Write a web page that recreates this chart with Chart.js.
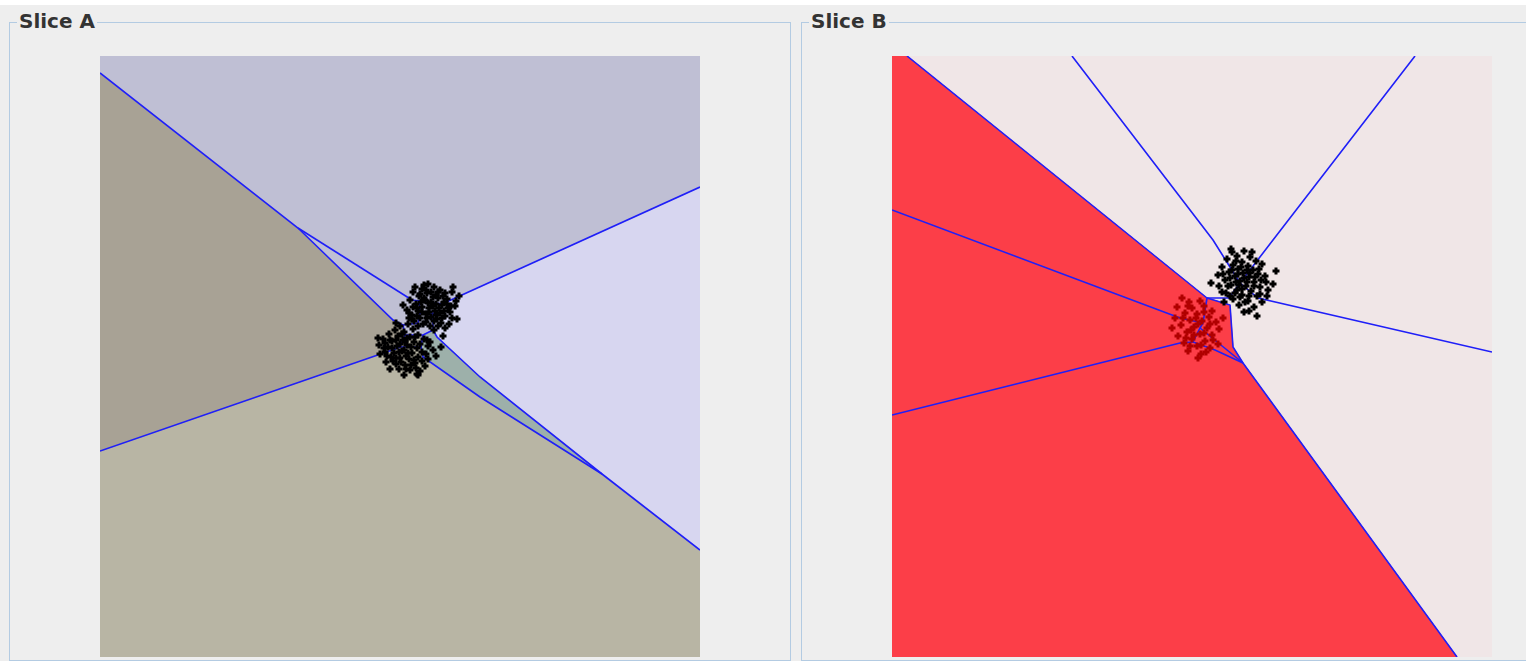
<!DOCTYPE html>
<html>
<head>
<meta charset="utf-8">
<title>Slices</title>
<script src="https://cdn.jsdelivr.net/npm/chart.js@4.4.1/dist/chart.umd.min.js"></script>
<style>
  html, body { margin: 0; padding: 0; background: #ffffff; width: 1526px; height: 661px; overflow: hidden;
    font-family: "DejaVu Sans", "Liberation Sans", sans-serif; }
  #bg { position: absolute; left: 0; top: 5px; width: 1526px; height: 656px; background: #eeeeee; }
  .frame { position: absolute; top: 22px; height: 637px; border: 1px solid #b3cbe2; }
  .title { position: absolute; top: 9px; font-weight: bold; font-size: 20px; color: #333333;
    background: #eeeeee; padding: 0 2px; line-height: 24px; }
  canvas { position: absolute; top: 56px; }
</style>
</head>
<body>
<div id="bg"></div>
<div class="frame" style="left:9px; width:780px"></div>
<div class="frame" style="left:801px; width:760px"></div>
<div class="title" style="left:17px">Slice A</div>
<div class="title" style="left:809px">Slice B</div>
<canvas id="sliceA" width="600" height="601" style="left:100px"></canvas>
<canvas id="sliceB" width="600" height="601" style="left:892px"></canvas>

<script>
// ---- Slice A: decision regions (x 0..600, y 0..601 measured downward) ----
const aFull      = [[0,0],[600,0],[600,601],[0,601],[0,0]];
const aTop       = [[0,0],[600,0],[600,131],[342,248],[333,257],[320,257],[303,269],[293,264],[198,172],[0,17],[0,0]];
const aLeft      = [[0,17],[198,172],[293,264],[303,269],[305,279],[300,291],[298,292],[0,395],[0,17]];
const aRight     = [[600,131],[600,494],[502,418],[380,321],[337,281],[333,274],[333,257],[342,248],[600,131]];
const aWedge     = [[333,274],[337,281],[380,321],[502,418],[380,341],[323,301],[321,291],[323,279],[333,274]];
const aCore      = [[303,269],[320,257],[333,257],[333,274],[323,279],[305,279],[303,269]];

// ---- Slice A: region boundaries ----
const aEdgeMain   = [[0,17],[198,172],[293,264],[303,269]];
const aEdgeBranch = [[198,172],[312,244]];
const aEdgeRight  = [[342,248],[600,131]];
const aEdgeLower  = [[0,395],[298,292]];
const aEdgeWedgeU = [[333,274],[337,281],[380,321],[502,418],[600,494]];
const aEdgeWedgeL = [[321,291],[323,301],[380,341],[502,418]];
const aCells = [
  [[312,244],[342,248]],
  [[319,244],[320,257]],
  [[318,257],[333,257],[333,274]],
  [[320,257],[318,267],[303,269]],
  [[303,269],[305,279]],
  [[305,279],[323,279],[321,291],[300,291],[305,279]],
  [[323,279],[333,274]],
  [[300,291],[298,292]]
];

// ---- Slice A: samples ----
const aSamples = [
  [328,228],[334,231],[322,233],[340,234],[313,236],[327,237],[345,237],[352,236],[319,240],[333,241],
  [338,242],[347,243],[310,244],[325,244],[331,246],[356,245],[316,248],[336,248],[342,249],[322,251],
  [329,252],[348,252],[307,254],[318,255],[335,255],[340,257],[326,258],[312,259],[345,260],[331,261],
  [320,262],[337,263],[352,262],[314,265],[326,266],[341,267],[330,270],[318,270],[345,272],[359,240],
  [303,249],[324,229],[344,246],[334,265],[350,256],[309,262],[321,246],[338,236],[315,231],[353,231],
  [326,234],[331,236],[336,239],[343,240],[320,238],[324,242],[328,247],[333,250],[339,252],[344,255],
  [317,252],[322,256],[327,262],[336,259],[342,262],[313,251],[347,248],[351,250],[329,256],[323,268],
  [338,270],[334,274],[317,260],[309,257],[355,250],
  [300,270],[308,268],[295,274],[304,276],[313,273],[289,278],[298,280],[310,281],[318,279],[283,283],
  [292,285],[303,284],[314,286],[324,283],[279,289],[288,291],[297,290],[307,289],[317,292],[328,290],
  [285,296],[294,297],[302,295],[312,297],[322,296],[333,294],[291,301],[300,302],[309,303],[318,301],
  [328,303],[286,306],[296,308],[305,309],[315,307],[325,310],[299,313],[310,314],[320,315],[304,319],
  [290,313],[336,300],[341,291],[280,298],[317,318],[327,284],[306,300],[296,267],[285,287],[312,263],
  [302,278],[307,282],[296,284],[292,292],[300,288],[311,291],[304,294],[296,302],[308,297],[314,304],
  [322,305],[301,306],[293,305],[311,309],[287,300],[284,292],[320,288],[326,298],[330,286],[315,281],
  [299,296],[305,285],[290,284],[316,312],[306,313],
  [343,280],[349,268],[278,282],[318,319],[357,263]
];

// ---- Slice B: decision regions ----
const bFull = [[0,0],[600,0],[600,601],[0,601],[0,0]];
const bRed  = [[0,0],[15,0],[315,242],[338,249],[341,291],[351,307],[565,601],[0,601],[0,0]];

// ---- Slice B: region boundaries ----
const bEdges = [
  [[15,0],[315,242]],
  [[315,242],[338,249],[341,291],[351,307],[565,601]],
  [[0,154],[288,262],[311,267]],
  [[311,267],[315,242]],
  [[0,359],[288,287],[301,286]],
  [[311,267],[308,272],[301,286]],
  [[308,272],[351,307]],
  [[301,286],[323,294],[351,307]],
  [[180,0],[321,184],[348,227]],
  [[523,0],[381,184],[348,227]],
  [[348,227],[366,242],[600,296]],
  [[348,227],[337,242],[315,242]]
];

// ---- Slice B: samples ----
const bSamplesDark = [
  [340,196],[352,195],[345,200],[358,201],[335,203],[364,205],[350,206],[341,209],[356,210],[370,208],
  [330,211],[346,213],[361,214],[337,216],[351,217],[366,218],[326,219],[343,220],[357,221],[373,220],
  [333,224],[348,225],[362,226],[339,229],[354,230],[368,231],[327,230],[345,234],[359,235],[376,234],
  [334,237],[350,239],[365,240],[341,243],[356,245],[370,246],[347,249],[362,251],[352,256],[365,260],
  [319,227],[332,246],[381,228],[360,196],[374,226],[330,236],[355,226],[344,226],[367,213],[338,222],
  [348,241],[375,240],[339,193],[384,215],
  [344,205],[349,211],[355,214],[340,214],[346,218],[352,222],[358,217],[362,230],[336,230],[343,237],
  [350,233],[357,240],[363,221],[347,229],[353,246],[369,224],[331,218],[368,238],[338,240],[357,255]
];
const bSamplesRed = [
  [290,242],[297,246],[308,245],[285,251],[300,252],[312,250],[320,255],[293,257],[305,258],[317,261],
  [283,262],[298,264],[310,265],[324,266],[289,269],[302,271],[315,272],[327,273],[295,276],[308,278],
  [320,279],[286,280],[300,283],[313,285],[305,290],[318,292],[296,295],[309,298],[326,288],[306,302],
  [280,272],[331,262],[292,287],
  [296,250],[304,262],[312,256],[291,262],[306,268],[299,274],[312,277],[302,279],[294,282],[318,268],
  [309,289],[298,290],[314,296],[321,284]
];

// ---- colours ----
const A_COLORS = { full: '#b8b5a4', top: '#bfbfd4', left: '#a8a295', right: '#d7d6f0', wedge: '#9db0aa', core: '#bfbfd4' };
const B_COLORS = { full: '#f0e6e7', red: '#fc3e48' };
const EDGE = '#1f1ff8';

const xy = pts => pts.map(p => ({ x: p[0], y: p[1] }));

function region(pts, color, order) {
  return { data: xy(pts), showLine: true, fill: 'shape', backgroundColor: color,
           borderColor: color, borderWidth: 1, pointRadius: 0, order: order };
}
function edge(pts) {
  return { data: xy(pts), showLine: true, fill: false, borderColor: EDGE,
           borderWidth: 1.6, pointRadius: 0, order: 2 };
}
function samples(pts, color) {
  return { data: xy(pts), showLine: false, pointStyle: 'cross', pointRadius: 3.5,
           borderColor: color, backgroundColor: color, borderWidth: 3, order: 1 };
}

function makeChart(id, datasets) {
  return new Chart(document.getElementById(id), {
    type: 'scatter',
    data: { datasets: datasets },
    options: {
      animation: false, responsive: false, events: [],
      layout: { padding: 0, autoPadding: false },
      elements: { line: { tension: 0 } },
      plugins: { legend: { display: false }, tooltip: { enabled: false }, title: { display: false } },
      scales: {
        x: { type: 'linear', min: 0, max: 600, display: false },
        y: { type: 'linear', min: 0, max: 601, reverse: true, display: false }
      }
    }
  });
}

makeChart('sliceA', [
  samples(aSamples, '#000000'),
  edge(aEdgeMain), edge(aEdgeBranch), edge(aEdgeRight), edge(aEdgeLower),
  edge(aEdgeWedgeU), edge(aEdgeWedgeL),
  ...aCells.map(edge),
  region(aCore, A_COLORS.core, 5),
  region(aWedge, A_COLORS.wedge, 5),
  region(aTop, A_COLORS.top, 5),
  region(aLeft, A_COLORS.left, 5),
  region(aRight, A_COLORS.right, 5),
  region(aFull, A_COLORS.full, 9)
]);

makeChart('sliceB', [
  samples(bSamplesDark, '#000000'),
  samples(bSamplesRed, '#b00000'),
  ...bEdges.map(edge),
  region(bRed, B_COLORS.red, 5),
  region(bFull, B_COLORS.full, 9)
]);
</script>
</body>
</html>
